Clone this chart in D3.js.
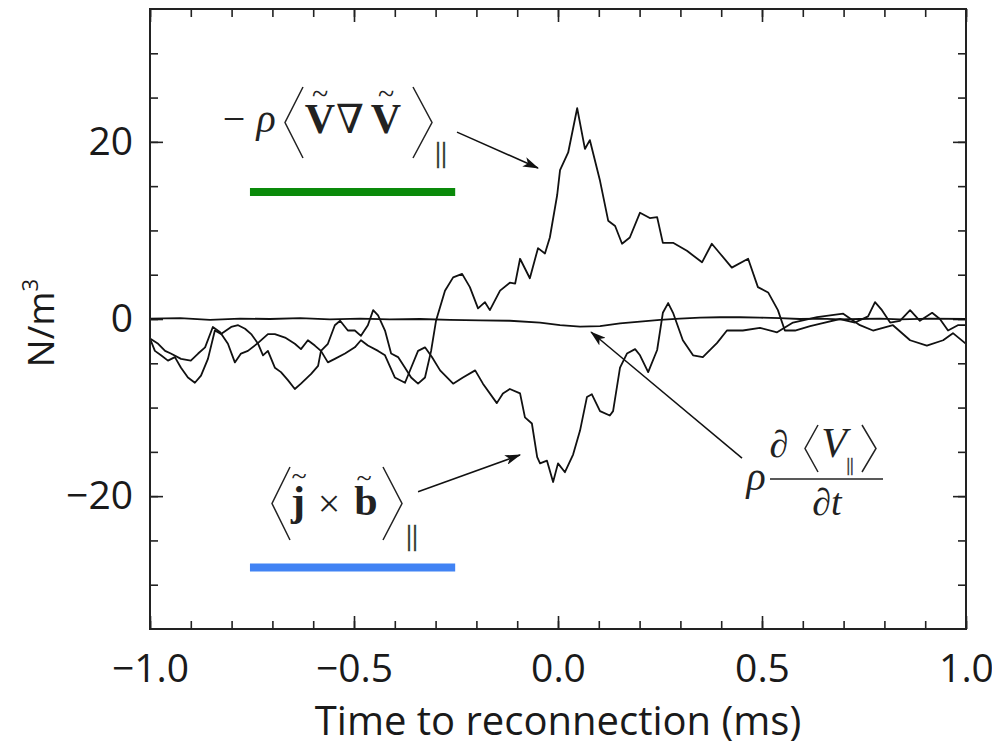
<!DOCTYPE html>
<html>
<head>
<meta charset="utf-8">
<script src="https://cdn.jsdelivr.net/npm/d3@7"></script>
<style>
  html, body { margin: 0; padding: 0; background: #fff; }
  svg { display: block; }
  .axis text { font-family: "Open Sans", sans-serif; font-size: 39px; fill: #1a1a1a; }
  .axis line { stroke: #222; stroke-width: 1.6; }
  .axis .domain { display: none; }
  .math { font-family: "Liberation Serif", "DejaVu Serif", serif; fill: #222; }
  .par { stroke: #444; stroke-width: 0.5; }
</style>
</head>
<body>
<div id="chart"></div>
<script>
// ---- Data (time to reconnection in ms, force density in N/m^3) ----
const reynolds = [
  [-1.0, -2.2], [-0.988, -3.6], [-0.973, -4.1], [-0.956, -4.7], [-0.939, -4.3], [-0.924, -5.5],
  [-0.907, -6.6], [-0.890, -7.2], [-0.875, -6.4], [-0.858, -4.5], [-0.841, -1.3], [-0.826, -1.7],
  [-0.801, -0.9], [-0.784, -0.7], [-0.767, -1.1], [-0.752, -1.7], [-0.735, -2.8], [-0.723, -4.1],
  [-0.711, -3.6], [-0.694, -5.5], [-0.679, -6.0], [-0.662, -6.9], [-0.645, -7.9], [-0.630, -7.3],
  [-0.605, -6.2], [-0.588, -5.3], [-0.581, -3.6], [-0.564, -2.8], [-0.547, -0.7], [-0.534, -0.2],
  [-0.515, -1.3], [-0.498, -1.3], [-0.483, -1.9], [-0.466, -0.7], [-0.453, 1.0], [-0.441, 0.4],
  [-0.424, -1.3], [-0.409, -3.9], [-0.392, -4.3], [-0.375, -5.5], [-0.360, -6.6], [-0.343, -7.3],
  [-0.326, -6.6], [-0.311, -3.6], [-0.299, -0.2], [-0.277, 3.2], [-0.257, 4.7], [-0.235, 5.1],
  [-0.216, 3.6], [-0.196, 1.2], [-0.179, 1.9], [-0.167, 1.0], [-0.142, 3.2], [-0.118, 4.1],
  [-0.105, 4.0], [-0.093, 6.8], [-0.069, 4.6], [-0.049, 8.0], [-0.032, 7.4], [-0.020, 9.2],
  [-0.002, 14.0], [0.005, 16.8], [0.025, 18.8], [0.047, 23.8], [0.066, 19.2], [0.078, 20.2],
  [0.103, 15.6], [0.123, 11.1], [0.140, 10.5], [0.157, 8.5], [0.176, 9.2], [0.201, 12.0],
  [0.225, 11.4], [0.243, 11.5], [0.257, 8.6], [0.282, 8.6], [0.316, 7.7], [0.353, 6.4],
  [0.377, 8.5], [0.397, 7.4], [0.426, 5.8], [0.466, 6.8], [0.490, 3.6], [0.515, 3.0],
  [0.539, 1.0], [0.556, -1.3], [0.581, -1.3], [0.618, -0.8], [0.654, -0.4], [0.691, 0.0],
  [0.728, -0.4], [0.760, 0.3], [0.777, 1.9], [0.794, 1.0], [0.814, -0.4], [0.838, -0.2],
  [0.863, 1.0], [0.887, -0.2], [0.917, 0.7], [0.936, 0.0], [0.956, -1.3], [0.980, -0.7], [1.0, -0.7]
];

const jxb = [
  [-1.0, -2.2], [-0.980, -2.8], [-0.963, -3.6], [-0.949, -3.9], [-0.924, -4.5], [-0.900, -4.7],
  [-0.882, -3.9], [-0.865, -3.2], [-0.846, -0.9], [-0.828, -1.5], [-0.809, -2.8], [-0.792, -4.9],
  [-0.777, -3.9], [-0.760, -3.6], [-0.735, -2.7], [-0.711, -1.7], [-0.694, -1.7], [-0.669, -2.1],
  [-0.645, -2.8], [-0.630, -3.4], [-0.613, -2.4], [-0.596, -3.0], [-0.581, -3.6], [-0.564, -4.9],
  [-0.547, -4.5], [-0.522, -3.9], [-0.498, -3.2], [-0.483, -2.4], [-0.466, -3.0], [-0.441, -3.6],
  [-0.424, -4.1], [-0.400, -6.6], [-0.375, -7.2], [-0.360, -5.5], [-0.343, -3.6], [-0.326, -3.2],
  [-0.309, -4.3], [-0.289, -5.8], [-0.257, -7.3], [-0.233, -6.6], [-0.203, -5.8], [-0.184, -7.3],
  [-0.150, -9.5], [-0.135, -8.4], [-0.118, -7.9], [-0.093, -8.4], [-0.081, -11.1], [-0.064, -11.8],
  [-0.051, -15.6], [-0.044, -16.3], [-0.027, -16.0], [-0.012, -18.4], [0.000, -16.3], [0.017, -17.3],
  [0.037, -15.3], [0.054, -12.6], [0.071, -8.8], [0.083, -8.5], [0.103, -10.4], [0.127, -10.9],
  [0.135, -10.4], [0.152, -5.5], [0.169, -3.9], [0.189, -3.4], [0.201, -4.1], [0.221, -6.0],
  [0.243, -3.5], [0.257, 0.7], [0.270, 1.8], [0.282, 0.7], [0.306, -2.4], [0.331, -4.1],
  [0.355, -4.3], [0.390, -2.7], [0.414, -1.3], [0.453, -1.3], [0.495, -1.0], [0.537, -1.5],
  [0.576, -0.4], [0.635, 0.2], [0.699, 0.6], [0.740, -0.7], [0.772, -1.3], [0.821, -0.7],
  [0.863, -2.4], [0.904, -3.0], [0.944, -2.4], [0.968, -1.6], [1.0, -2.8]
];

const dVdt = [
  [-1.0, 0.05], [-0.926, 0.1], [-0.853, -0.1], [-0.779, 0.05], [-0.706, 0.0], [-0.632, 0.1],
  [-0.559, -0.05], [-0.485, 0.05], [-0.412, -0.05], [-0.338, 0.0], [-0.265, -0.1], [-0.191, -0.15],
  [-0.118, -0.2], [-0.044, -0.4], [0.005, -0.7], [0.054, -0.85], [0.103, -0.8], [0.152, -0.5],
  [0.201, -0.3], [0.250, -0.1], [0.299, 0.05], [0.348, 0.15], [0.397, 0.2], [0.446, 0.2],
  [0.495, 0.15], [0.544, 0.1], [0.593, 0.0], [0.642, 0.05], [0.691, -0.05], [0.740, 0.0],
  [0.789, 0.05], [0.838, -0.05], [0.912, 0.05], [1.0, 0.0]
];

const xMajorTicks = [-1.0, -0.5, 0.0, 0.5, 1.0];
const xMinorTicks = d3.range(-10, 11).map(i => i / 10);
const yMajorTicks = [-20, 0, 20];
const yMinorTicks = d3.range(-30, 31, 5);

// legend bars and arrows, in data units
const legendSpan = [-0.755, -0.252];
const legendGreenY = 14.35;
const legendBlueY = -28.05;
const arrowReynolds = [[-0.2475, 21.1], [-0.049, 17.05]];
const arrowJxb = [[-0.343, -19.5], [-0.093, -15.35]];
const arrowDvdt = [[0.451, -15.7], [0.081, -1.47]];

// ---- Layout ----
const W = 992, H = 751;
const margin = { top: 9, right: 26, bottom: 122, left: 150 };
const innerWidth = W - margin.left - margin.right;
const innerHeight = H - margin.top - margin.bottom;

const svg = d3.select('#chart').append('svg').attr('width', W).attr('height', H);
const g = svg.append('g').attr('transform', `translate(${margin.left},${margin.top})`);

const x = d3.scaleLinear().domain([-1, 1]).range([0, innerWidth]);
const y = d3.scaleLinear().domain([-35, 35]).range([innerHeight, 0]);

// ---- Defs ----
const defs = svg.append('defs');
defs.append('clipPath').attr('id', 'plotClip')
  .append('rect').attr('width', innerWidth).attr('height', innerHeight);
defs.append('marker')
  .attr('id', 'arrowHead').attr('markerUnits', 'userSpaceOnUse')
  .attr('viewBox', '0 0 16 10').attr('refX', 15).attr('refY', 5)
  .attr('markerWidth', 16).attr('markerHeight', 10).attr('orient', 'auto')
  .append('path').attr('d', 'M0,0 L16,5 L0,10 L4,5 Z').attr('fill', '#111');

// ---- Axes (ticks inward on all four sides) ----
const fmtX = d3.format('.1f');
const fmtY = d3.format('d');

function addAxis(axisFn, ticks, size, fmt, transform, pad) {
  return g.append('g').attr('class', 'axis').attr('transform', transform || null)
    .call(axisFn.tickValues(ticks).tickSize(-size).tickPadding(pad || 0).tickFormat(fmt || ''));
}

addAxis(d3.axisBottom(x), xMinorTicks, 8, null, `translate(0,${innerHeight})`);
addAxis(d3.axisBottom(x), xMajorTicks, 13, fmtX, `translate(0,${innerHeight})`, 25);
addAxis(d3.axisTop(x), xMinorTicks, 8, null);
addAxis(d3.axisTop(x), xMajorTicks, 13, null);
addAxis(d3.axisLeft(y), yMinorTicks, 8, null);
addAxis(d3.axisLeft(y), yMajorTicks, 13, fmtY, null, 17);
addAxis(d3.axisRight(y), yMinorTicks, 8, null, `translate(${innerWidth},0)`);
addAxis(d3.axisRight(y), yMajorTicks, 13, null, `translate(${innerWidth},0)`);
// drop the empty label nodes of the unlabelled tick sets
g.selectAll('.axis text').filter(function () { return this.textContent === ''; }).remove();

// ---- Curves ----
const line = d3.line().x(d => x(d[0])).y(d => y(d[1]));
const curves = g.append('g').attr('clip-path', 'url(#plotClip)');
[dVdt, jxb, reynolds].forEach(series => {
  curves.append('path')
    .datum(series)
    .attr('d', line)
    .attr('fill', 'none')
    .attr('stroke', '#111')
    .attr('stroke-width', 1.8)
    .attr('stroke-linejoin', 'round');
});

// ---- Frame ----
g.append('rect')
  .attr('width', innerWidth).attr('height', innerHeight)
  .attr('fill', 'none').attr('stroke', '#222').attr('stroke-width', 2);

// ---- Legend bars ----
[[legendGreenY, '#0a8a0a'], [legendBlueY, '#4183f4']].forEach(([v, c]) => {
  g.append('line')
    .attr('x1', x(legendSpan[0])).attr('x2', x(legendSpan[1]))
    .attr('y1', y(v)).attr('y2', y(v))
    .attr('stroke', c).attr('stroke-width', 8);
});

// ---- Arrows ----
[arrowReynolds, arrowJxb, arrowDvdt].forEach(([a, b]) => {
  g.append('line')
    .attr('x1', x(a[0])).attr('y1', y(a[1]))
    .attr('x2', x(b[0])).attr('y2', y(b[1]))
    .attr('stroke', '#111').attr('stroke-width', 1.5)
    .attr('marker-end', 'url(#arrowHead)');
});

// ---- Math labels (page pixel coordinates) ----
const m = svg.append('g');
function mtext(str, cx, by, size, opts = {}) {
  return m.append('text')
    .attr('class', opts.cls ? 'math ' + opts.cls : 'math')
    .attr('x', cx).attr('y', by)
    .attr('text-anchor', 'middle')
    .attr('font-size', size)
    .attr('font-style', opts.italic ? 'italic' : null)
    .attr('font-weight', opts.bold ? 'bold' : null)
    .attr('font-family', opts.family || null)
    .attr('fill', opts.fill || null)
    .text(str);
}
function bracket(xOuter, xInner, y0, y1) {
  m.append('path')
    .attr('d', `M${xInner},${y0} L${xOuter},${(y0 + y1) / 2} L${xInner},${y1}`)
    .attr('fill', 'none').attr('stroke', '#222').attr('stroke-width', 1.5);
}

// -ρ <V ∇ V>_||
mtext('−', 234, 132, 40);
mtext('ρ', 266, 132, 40, { italic: true });
bracket(285, 303, 87, 158);
mtext('V', 320, 133, 42, { bold: true });
mtext('∇', 350, 133, 40, { family: 'DejaVu Serif' });
mtext('V', 386, 133, 42, { bold: true });
mtext('~', 320, 104, 30);
mtext('~', 386, 104, 30);
bracket(432, 413, 87, 158);
mtext('||', 441, 162, 30, { fill: '#444', cls: 'par' });

// <j × b>_||
bracket(272, 290, 467, 540);
mtext('j', 298, 515, 42, { bold: true });
mtext('~', 299, 485, 28);
mtext('×', 329, 517, 40);
mtext('b', 366, 515, 42, { bold: true });
mtext('~', 364, 487, 28);
bracket(402, 383, 467, 540);
mtext('||', 412, 545, 30, { fill: '#444', cls: 'par' });

// ρ ∂<V_||>/∂t
mtext('ρ', 756, 490, 40, { italic: true });
mtext('∂', 779, 457, 38, { italic: true });
bracket(805, 818, 425, 472);
mtext('V', 834, 457, 42, { italic: true });
mtext('||', 850, 471, 18, { fill: '#444', cls: 'par' });
bracket(876, 862, 425, 472);
m.append('line').attr('x1', 770).attr('x2', 883).attr('y1', 479).attr('y2', 479)
  .attr('stroke', '#222').attr('stroke-width', 1.6);
mtext('∂t', 827, 515, 38, { italic: true });

// ---- Axis titles ----
svg.append('text')
  .attr('x', margin.left + x(0)).attr('y', 735)
  .attr('text-anchor', 'middle')
  .attr('font-family', '"Open Sans", sans-serif').attr('font-size', 40).attr('fill', '#1a1a1a')
  .text('Time to reconnection (ms)');

const yTitle = svg.append('text')
  .attr('transform', 'translate(54,323) rotate(-90)')
  .attr('text-anchor', 'middle')
  .attr('font-family', '"Open Sans", sans-serif').attr('font-size', 37).attr('fill', '#1a1a1a');
yTitle.append('tspan').text('N/m');
yTitle.append('tspan').attr('font-size', 22).attr('dy', -16).text('3');
</script>
</body>
</html>
